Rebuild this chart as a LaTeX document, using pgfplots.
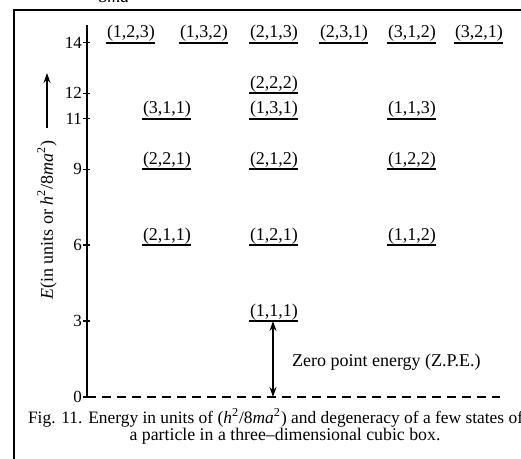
\documentclass[border=0pt]{standalone}
\usepackage{fontspec}
\setmainfont{Liberation Serif}
\usepackage{pgfplots}
\pgfplotsset{compat=1.18}
\usetikzlibrary{arrows.meta}

% 1 px of the reference = 0.5pt here; x axis runs in reference pixels
\pgfplotstableread{
x   y   lab
131 14  (1,2,3)
204 14  (1,3,2)
274 14  (2,1,3)
344 14  (2,3,1)
412 14  (3,1,2)
479 14  (3,2,1)
274 12  (2,2,2)
167 11  (3,1,1)
274 11  (1,3,1)
412 11  (1,1,3)
167 9   (2,2,1)
274 9   (2,1,2)
412 9   (1,2,2)
167 6   (2,1,1)
274 6   (1,2,1)
412 6   (1,1,2)
274 3   (1,1,1)
}\levels

\begin{document}
\begin{tikzpicture}
\path[use as bounding box] (0,0) rectangle (260.5pt,229.5pt);
% frame of the scanned page
\draw[line width=1.4pt] (7pt,-5pt) -- (7pt,224.5pt) -- (270pt,224.5pt);
\node[anchor=base, font=\fontsize{9}{11}\selectfont\itshape] at (57pt,228pt) {8ma};

\begin{axis}[
    at={(43.5pt,31pt)}, anchor=south west,
    scale only axis, width=209pt, height=186pt,
    xmin=87, xmax=505, ymin=0, ymax=14.7,
    axis x line=none, axis y line*=left,
    y axis line style={line width=0.8pt},
    ytick={0,3,6,9,11,12,14},
    tick align=center, major tick length=3.5pt,
    tick style={line width=0.7pt, black},
    yticklabel style={font=\fontsize{8.5}{10}\selectfont, inner sep=0.6pt},
    /pgf/number format/assume math mode=true,
    clip=false,
]
\addplot[draw=none, no markers,
    error bars/.cd, x dir=both, x fixed=24.5, error mark=none,
    error bar style={draw=black, line width=0.9pt}]
  table[x=x, y=y] {\levels};
\addplot[draw=none, no markers,
    nodes near coords, point meta=explicit symbolic,
    nodes near coords style={anchor=south, inner sep=0.4pt,
      font=\fontsize{9}{11}\selectfont}]
  table[x=x, y=y, meta=lab] {\levels};
\addplot[black, line width=0.8pt, dash pattern=on 4.5pt off 3pt]
  coordinates {(87,0) (500,0)};
\draw[{Stealth[length=5pt,width=3.5pt]}-{Stealth[length=5pt,width=3.5pt]}, line width=0.7pt]
  (axis cs:273,3) -- (axis cs:273,0);
\end{axis}

\node[anchor=west, font=\fontsize{9}{11}\selectfont] at (142.5pt,48.5pt)
  {Zero point energy (Z.P.E.)};
\node[rotate=90, font=\fontsize{9}{11}\selectfont] at (23.5pt,119.5pt)
  {\textit{E}(in units or \textit{h}\textsuperscript{2}/8\textit{ma}\textsuperscript{2})};
\draw[-{Stealth[length=5pt,width=3.5pt]}, line width=0.7pt] (23.5pt,165.5pt) -- (23.5pt,193pt);
\node[anchor=west, font=\fontsize{8.7}{10}\selectfont] at (10.5pt,20.5pt)
  {Fig. 11. Energy in units of (\textit{h}\textsuperscript{2}/8\textit{ma}\textsuperscript{2}) and degeneracy of a few states of};
\node[font=\fontsize{8.9}{10}\selectfont] at (142.5pt,11.5pt)
  {a particle in a three--dimensional cubic box.};
\end{tikzpicture}
\end{document}
